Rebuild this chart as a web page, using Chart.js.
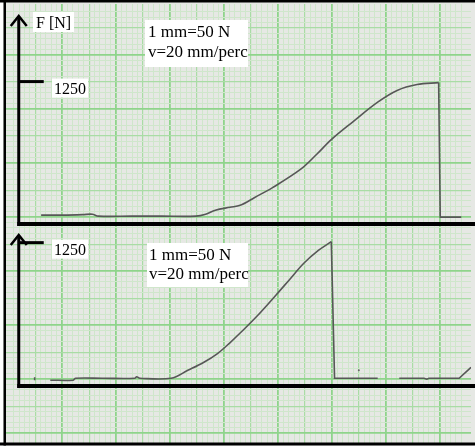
<!DOCTYPE html>
<html>
  <head>
    <title>F [N]</title>
    <style>
      body { margin: 0; background: #fff; }
      canvas { display: block; }
    </style>
  </head>
  <body>
    <canvas id="canvas" width="475" height="447"></canvas>
    <script src="https://cdn.jsdelivr.net/npm/chart.js@4.4.1/dist/chart.umd.min.js"></script>
    <script>
      // paper position along the time axis (mm) and force (N), upper test
      const topTime = [6.1, 10.2, 13.8, 15.6, 16.7, 22.9, 28.4, 34.8, 36.6, 38.4, 41.1, 43.0, 45.7, 49.0, 54.3, 57.2, 59.9, 63.9, 68.5, 72.1, 75.8, 79.8, 80.1, 84.0];
      const topForce = [78, 78, 82, 86, 69, 69, 69, 69, 86, 121, 147, 164, 233, 319, 483, 612, 741, 897, 1069, 1172, 1224, 1241, 60, 60];

      // lower test (null = pen lifted)
      const botTime = [4.9, 4.9, 4.9, 7.8, 12.0, 12.5, 17.4, 23.5, 23.8, 24.4, 30.2, 33.3, 36.2, 38.8, 41.1, 43.0, 46.1, 49.7, 52.1, 54.8, 57.5, 59.9, 60.5, 68.5, 68.5, 72.5, 77.1, 77.6, 78.0, 83.6, 85.4, 85.8];
      const botForce = [51, 77, null, 51, 51, 68, 68, 68, 81, 68, 68, 137, 205, 283, 377, 462, 608, 796, 925, 1070, 1182, 1259, 68, 68, null, 68, 68, 60, 68, 68, 146, 163];

      const dotTime = [65.0];
      const dotForce = [137];

      const forceTicks = [1250];
      const axisLabel = "F [N]";
      const noteLines = ["1 mm=50 N", "v=20 mm/perc"];

      const W = 475, H = 447;
      const pxPerMmX = 5.486, pxPerMmY = 5.5;
      const gridX0 = 4.3, gridY0 = 437;

      function forceRange(zeroPx, pxPerN) {
        const min = -(H - zeroPx) / pxPerN;
        return { min: min, max: min + H / pxPerN };
      }
      const topRange = forceRange(224, 0.116);
      const botRange = forceRange(389, 0.1168);

      // rising part is smoothed, the break and what follows is drawn straight
      function traceSets(time, force, axis) {
        const pts = time.map((t, i) => ({ x: t, y: force[i] }));
        let peak = 0;
        force.forEach((f, i) => { if (f !== null && f > force[peak]) peak = i; });
        return [
          { data: pts.slice(0, peak + 1), yAxisID: axis, tension: 0.35 },
          { data: pts.slice(peak), yAxisID: axis, tension: 0 }
        ];
      }

      function lineKind(v) {
        const r = Math.round(v);
        if (Math.abs(v - r) > 1e-6) return 0;
        if (r % 10 === 0) return 3;
        if (r % 5 === 0) return 2;
        return 1;
      }
      const gridColors = ["rgba(0,0,0,0)", "#cfe6cb", "#a9dca5", "#8fd48b"];
      const gridWidths = [0, 1, 1.2, 1.8];
      const paperGrid = {
        color: (c) => gridColors[lineKind(c.tick.value)],
        lineWidth: (c) => gridWidths[lineKind(c.tick.value)],
        drawTicks: false
      };

      const paper = {
        id: "paper",
        beforeDraw(chart) {
          const c = chart.ctx;
          c.save();
          c.fillStyle = "#e6e8e4";
          c.fillRect(0, 0, W, H);
          c.restore();
        },
        afterDraw(chart) {
          const c = chart.ctx;
          const xs = chart.scales.x;
          const axisX = xs.getPixelForValue((15 - gridX0) / pxPerMmX);
          c.save();
          c.fillStyle = "#000";
          c.strokeStyle = "#000";
          c.lineCap = "butt";

          const panels = [
            { s: chart.scales.yTop, tip: 16, box: [145, 20, 103, 47], base: [148, 37, 57], label: true },
            { s: chart.scales.yBot, tip: 235, box: [147, 243, 101, 44], base: [149, 259.5, 279], label: false }
          ];
          panels.forEach((p) => {
            const y0 = p.s.getPixelForValue(0);
            // vertical axis with arrow
            c.lineWidth = 3;
            c.beginPath();
            c.moveTo(axisX, y0 + 2);
            c.lineTo(axisX, p.tip + 1);
            c.stroke();
            c.lineWidth = 2.5;
            c.beginPath();
            c.moveTo(axisX - 8, p.tip + 10);
            c.lineTo(axisX, p.tip);
            c.lineTo(axisX + 8, p.tip + 10);
            c.stroke();
            // time axis
            c.lineWidth = 4;
            c.beginPath();
            c.moveTo(axisX - 1.5, y0);
            c.lineTo(W, y0);
            c.stroke();
            // force ticks
            c.font = "16px 'Liberation Serif'";
            forceTicks.forEach((v) => {
              const y = p.s.getPixelForValue(v);
              c.lineWidth = 3;
              c.beginPath();
              c.moveTo(axisX, y);
              c.lineTo(axisX + 25, y);
              c.stroke();
              const ty = y + 12;
              c.fillStyle = "#fff";
              c.fillRect(52, ty - 15, 36, 19);
              c.fillStyle = "#000";
              c.fillText(String(v), 54, ty);
            });
            // scale note
            c.fillStyle = "#fff";
            c.fillRect(p.box[0], p.box[1], p.box[2], p.box[3]);
            c.fillStyle = "#000";
            c.font = "17px 'Liberation Serif'";
            c.fillText(noteLines[0], p.base[0], p.base[1]);
            c.fillText(noteLines[1], p.base[0], p.base[2]);
            if (p.label) {
              c.font = "16px 'Liberation Serif'";
              c.fillStyle = "#fff";
              c.fillRect(33, 12, 41, 20);
              c.fillStyle = "#000";
              c.fillText(axisLabel, 36, 28);
            }
          });

          // frame of the scan
          c.fillStyle = "#fff";
          c.fillRect(0, 0, 3.5, H);
          c.fillRect(0, 445.5, W, H - 445.5);
          c.fillStyle = "#000";
          c.fillRect(3.5, 0, 2.5, 445.5);
          c.fillRect(0, 0, W, 2.5);
          c.fillRect(0, 442.5, W, 3);
          c.restore();
        }
      };

      new Chart(document.getElementById("canvas"), {
        type: "line",
        data: {
          datasets: [
            ...traceSets(topTime, topForce, "yTop"),
            ...traceSets(botTime, botForce, "yBot"),
            {
              type: "scatter",
              data: dotTime.map((t, i) => ({ x: t, y: dotForce[i] })),
              yAxisID: "yBot",
              pointRadius: 1,
              backgroundColor: "#666",
              borderWidth: 0
            }
          ]
        },
        options: {
          responsive: false,
          animation: false,
          devicePixelRatio: 1,
          layout: { padding: 0 },
          plugins: {
            legend: { display: false },
            tooltip: { enabled: false }
          },
          elements: {
            point: { radius: 0 },
            line: { borderColor: "#575757", borderWidth: 1.6, fill: false, capBezierPoints: true }
          },
          scales: {
            x: {
              type: "linear",
              min: -gridX0 / pxPerMmX,
              max: (W - gridX0) / pxPerMmX,
              ticks: { display: false, stepSize: 1, maxTicksLimit: 500 },
              grid: paperGrid,
              border: { display: false }
            },
            yPaper: {
              type: "linear",
              position: "left",
              min: -(H - gridY0) / pxPerMmY,
              max: gridY0 / pxPerMmY,
              ticks: { display: false, stepSize: 1, maxTicksLimit: 500 },
              grid: paperGrid,
              border: { display: false }
            },
            yTop: { display: false, min: topRange.min, max: topRange.max },
            yBot: { display: false, min: botRange.min, max: botRange.max }
          }
        },
        plugins: [paper]
      });
    </script>
  </body>
</html>
